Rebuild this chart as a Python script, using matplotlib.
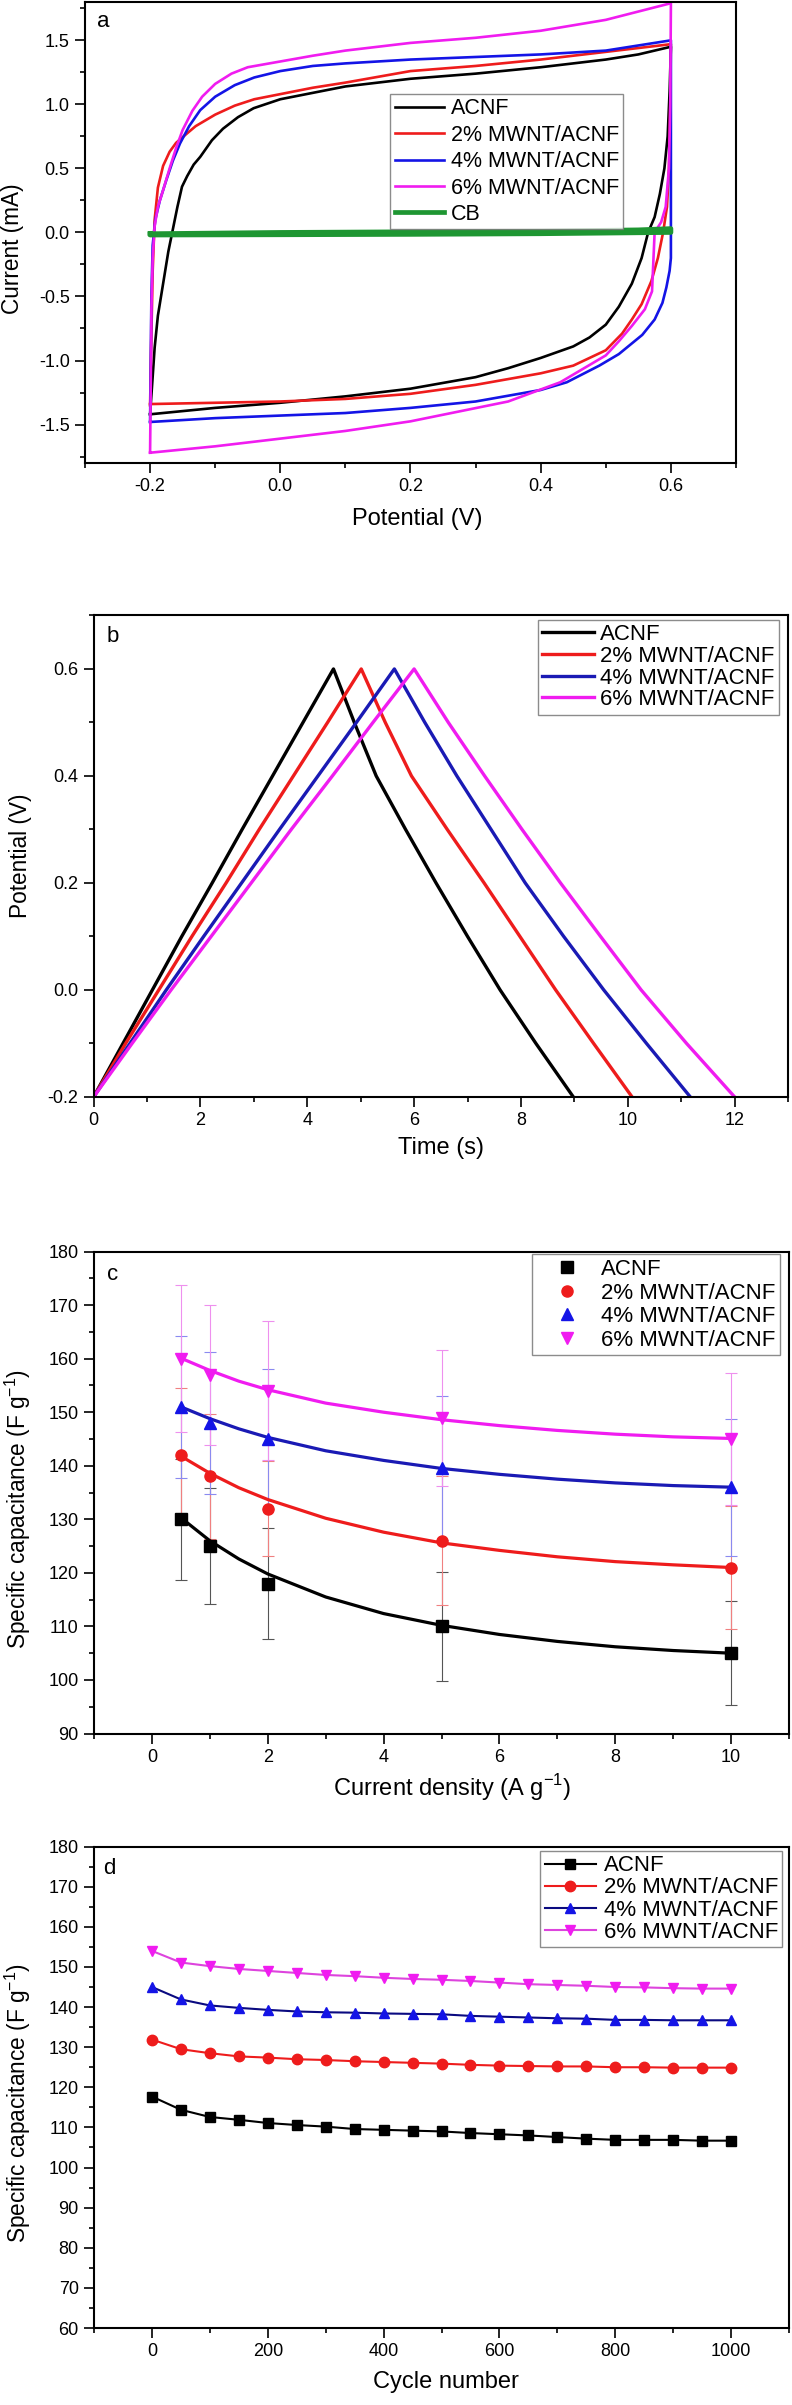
import numpy as np
import matplotlib
matplotlib.use("Agg")
import matplotlib.pyplot as plt
from matplotlib.ticker import MultipleLocator

plt.rcParams["font.family"] = ["Liberation Sans", "DejaVu Sans"]
plt.rcParams["axes.unicode_minus"] = False
plt.rcParams["mathtext.fontset"] = "custom"
plt.rcParams["mathtext.rm"] = "Liberation Sans"

LABELS = ["ACNF", "2% MWNT/ACNF", "4% MWNT/ACNF", "6% MWNT/ACNF"]

# ---- (a) cyclic voltammetry, closed loops
CV_V_ACNF = [-0.2, -0.197, -0.193, -0.188, -0.18, -0.172, -0.166, -0.158, -0.151, -0.143, -0.133,
             -0.123, -0.105, -0.088, -0.065, -0.041, 0.0, 0.05, 0.1, 0.2, 0.3, 0.4, 0.5, 0.55, 0.6,
             0.598, 0.595, 0.59, 0.583, 0.575, 0.565, 0.555, 0.54, 0.52, 0.5, 0.475, 0.45, 0.4,
             0.35, 0.3, 0.2, 0.1, 0.0, -0.1, -0.2]
CV_I_ACNF = [-1.42, -1.2, -0.9, -0.65, -0.4, -0.15, 0.0, 0.2, 0.357, 0.44, 0.53,
             0.59, 0.72, 0.81, 0.9, 0.97, 1.04, 1.09, 1.14, 1.2, 1.24, 1.29, 1.35, 1.39, 1.45,
             1.1, 0.75, 0.5, 0.3, 0.12, 0.0, -0.2, -0.4, -0.58, -0.72, -0.82, -0.89, -0.98,
             -1.06, -1.13, -1.22, -1.28, -1.33, -1.37, -1.42]

CV_V_2 = [-0.2, -0.198, -0.196, -0.193, -0.188, -0.18, -0.17, -0.16, -0.144, -0.13, -0.1, -0.07,
          -0.04, 0.0, 0.05, 0.1, 0.2, 0.3, 0.4, 0.5, 0.6,
          0.599, 0.597, 0.594, 0.588, 0.58, 0.57, 0.555, 0.54, 0.525, 0.5, 0.45, 0.4, 0.3, 0.2,
          0.1, 0.0, -0.1, -0.2]
CV_I_2 = [-1.35, -0.8, -0.3, 0.1, 0.35, 0.52, 0.63, 0.70, 0.77, 0.83, 0.92, 0.99,
          1.04, 1.08, 1.13, 1.17, 1.26, 1.30, 1.35, 1.41, 1.47,
          1.0, 0.5, 0.2, 0.0, -0.2, -0.38, -0.56, -0.68, -0.79, -0.92, -1.04, -1.10, -1.19, -1.26,
          -1.30, -1.32, -1.33, -1.34]

CV_V_4 = [-0.2, -0.199, -0.198, -0.196, -0.192, -0.185, -0.175, -0.165, -0.154, -0.14, -0.123,
          -0.1, -0.07, -0.04, 0.0, 0.05, 0.1, 0.2, 0.3, 0.4, 0.5, 0.6,
          0.6, 0.598, 0.593, 0.587, 0.575, 0.556, 0.52, 0.49, 0.44, 0.4, 0.3, 0.2, 0.1, 0.0,
          -0.1, -0.2]
CV_I_4 = [-1.48, -1.0, -0.5, -0.1, 0.1, 0.25, 0.41, 0.56, 0.695, 0.83, 0.955,
          1.06, 1.15, 1.21, 1.26, 1.30, 1.32, 1.35, 1.37, 1.39, 1.42, 1.50,
          -0.2, -0.3, -0.43, -0.55, -0.68, -0.80, -0.95, -1.04, -1.17, -1.23, -1.32, -1.37, -1.41,
          -1.43, -1.45, -1.48]

CV_V_6 = [-0.2, -0.199, -0.198, -0.196, -0.193, -0.188, -0.18, -0.17, -0.16, -0.15, -0.135,
          -0.12, -0.1, -0.075, -0.05, 0.0, 0.05, 0.1, 0.2, 0.3, 0.4, 0.5, 0.6,
          0.599, 0.597, 0.592, 0.585, 0.575, 0.571, 0.56, 0.54, 0.52, 0.5, 0.48, 0.43, 0.35, 0.2,
          0.1, 0.0, -0.1, -0.2]
CV_I_6 = [-1.72, -1.2, -0.6, -0.2, 0.05, 0.2, 0.33, 0.5, 0.66, 0.8, 0.95,
          1.06, 1.16, 1.24, 1.29, 1.335, 1.38, 1.42, 1.48, 1.52, 1.575, 1.66, 1.79,
          1.0, 0.5, 0.2, 0.08, 0.0, -0.46, -0.6, -0.73, -0.85, -0.96, -1.02, -1.17, -1.32, -1.475,
          -1.55, -1.61, -1.67, -1.72]

CV_V_CB = [-0.2, 0.0, 0.2, 0.4, 0.55, 0.6, 0.6, 0.4, 0.2, 0.0, -0.2, -0.2]
CV_I_CB = [-0.01, 0.0, 0.005, 0.01, 0.02, 0.03, 0.0, -0.01, -0.015, -0.018, -0.02, -0.01]

# ---- (b) galvanostatic charge/discharge (time at each potential level)
GCD_V = [-0.2, -0.1, 0.0, 0.1, 0.2, 0.3, 0.4, 0.5, 0.6, 0.5, 0.4, 0.3, 0.2, 0.1, 0.0, -0.1, -0.2]
GCD_T_ACNF = [0, 0.55, 1.1, 1.65, 2.22, 2.78, 3.35, 3.92, 4.49,
              4.88, 5.29, 5.84, 6.41, 7.0, 7.61, 8.28, 8.98]
GCD_T_2 = [0, 0.6, 1.22, 1.84, 2.48, 3.1, 3.74, 4.38, 5.01,
           5.46, 5.95, 6.62, 7.31, 7.98, 8.65, 9.36, 10.08]
GCD_T_4 = [0, 0.68, 1.36, 2.06, 2.77, 3.48, 4.2, 4.92, 5.63,
           6.2, 6.8, 7.44, 8.08, 8.8, 9.55, 10.35, 11.17]
GCD_T_6 = [0, 0.72, 1.45, 2.2, 2.95, 3.7, 4.47, 5.23, 6.0,
           6.64, 7.32, 8.02, 8.74, 9.49, 10.25, 11.1, 12.0]

# ---- (c) rate capability
CUR_DENS = [0.5, 1, 2, 5, 10]
CAP_ACNF = [130, 125, 118, 110, 105]
CAP_2 = [142, 138, 132, 126, 121]
CAP_4 = [151, 148, 145, 139.6, 136]
CAP_6 = [160, 157, 154, 149, 145]
ERR_ACNF = [11.3, 10.9, 10.3, 10.2, 9.7]
ERR_2 = [12.6, 11.7, 8.9, 12.0, 11.5]
ERR_4 = [13.3, 13.2, 13.0, 13.4, 12.8]
ERR_6 = [13.7, 13.1, 13.0, 12.7, 12.4]
FIT_X = [0.5, 1, 1.5, 2, 3, 4, 5, 6, 7, 8, 9, 10]
FIT_ACNF = [130.3, 126.0, 122.6, 119.8, 115.5, 112.4, 110.2, 108.5, 107.2, 106.2, 105.5, 105.0]
FIT_2 = [141.8, 138.6, 135.9, 133.7, 130.2, 127.6, 125.6, 124.2, 123.0, 122.1, 121.5, 121.0]
FIT_4 = [151.0, 148.8, 146.9, 145.3, 142.8, 141.0, 139.5, 138.4, 137.5, 136.8, 136.3, 136.0]
FIT_6 = [160.1, 157.8, 155.8, 154.2, 151.7, 150.0, 148.6, 147.5, 146.6, 145.9, 145.4, 145.1]

# ---- (d) cycling
CYCLES = list(range(0, 1001, 50))
CYC_ACNF = [117.7, 114.4, 112.6, 111.9, 111.1, 110.6, 110.2, 109.6, 109.4, 109.2, 109.0,
            108.6, 108.3, 108.0, 107.6, 107.2, 106.9, 106.9, 106.9, 106.7, 106.7]
CYC_2 = [131.9, 129.5, 128.5, 127.7, 127.4, 127.0, 126.8, 126.5, 126.3, 126.1, 125.9,
         125.6, 125.4, 125.3, 125.2, 125.2, 125.0, 125.0, 124.9, 124.9, 124.9]
CYC_4 = [145.0, 141.9, 140.4, 139.8, 139.3, 138.9, 138.7, 138.6, 138.4, 138.3, 138.2,
         137.8, 137.6, 137.4, 137.2, 137.1, 136.8, 136.8, 136.7, 136.7, 136.7]
CYC_6 = [154.0, 151.1, 150.2, 149.5, 149.0, 148.5, 148.0, 147.7, 147.3, 147.0, 146.8,
         146.5, 146.1, 145.7, 145.5, 145.3, 145.0, 144.9, 144.7, 144.6, 144.6]

BLACK, RED, BLUE, MAG, GREEN = "#000000", "#ee1c1c", "#1414e6", "#f01cf0", "#1e9632"

TICK_FS = 13
XLABEL_FS = 17
YLABEL_FS = 16.3


def style_axes(ax):
    for sp in ax.spines.values():
        sp.set_linewidth(1.5)
    ax.tick_params(which="both", direction="out", top=False, right=False,
                   width=1.2, labelsize=TICK_FS, pad=4)
    ax.tick_params(which="major", length=7)
    ax.tick_params(which="minor", length=3.5)


def place_labels(ax, xlab, ylab, xc, yc):
    ax.set_xlabel(xlab, fontsize=XLABEL_FS)
    ax.set_ylabel(ylab, fontsize=YLABEL_FS)
    ax.xaxis.set_label_coords(*xc)
    ax.yaxis.set_label_coords(*yc)
    ax.xaxis.label.set_verticalalignment("center")
    ax.yaxis.label.set_verticalalignment("center")


def legend_box(ax, anchor, fs, hl, htp, ls):
    leg = ax.legend(loc="upper left", bbox_to_anchor=anchor, fontsize=fs,
                    frameon=True, fancybox=False, borderpad=0.2, borderaxespad=0,
                    handlelength=hl, handletextpad=htp, labelspacing=ls)
    leg.get_frame().set_edgecolor("#707070")
    leg.get_frame().set_linewidth(1.0)
    return leg


fig = plt.figure(figsize=(7.92, 24.05), dpi=100)

# ---------------- (a)
ax = fig.add_axes([0.1073, 0.8075, 0.822, 0.1917])
ax.plot(CV_V_ACNF, CV_I_ACNF, color=BLACK, lw=1.9, label=LABELS[0])
ax.plot(CV_V_2, CV_I_2, color=RED, lw=1.9, label=LABELS[1])
ax.plot(CV_V_4, CV_I_4, color=BLUE, lw=1.9, label=LABELS[2])
ax.plot(CV_V_6, CV_I_6, color=MAG, lw=1.9, label=LABELS[3])
ax.plot(CV_V_CB, CV_I_CB, color=GREEN, lw=3.4, label="CB")
ax.set_xlim(-0.3, 0.7)
ax.set_ylim(-1.8, 1.8)
ax.xaxis.set_major_locator(MultipleLocator(0.2))
ax.xaxis.set_minor_locator(MultipleLocator(0.1))
ax.yaxis.set_major_locator(MultipleLocator(0.5))
ax.yaxis.set_minor_locator(MultipleLocator(0.25))
ax.xaxis.set_major_formatter(lambda v, p: f"{v:.1f}")
ax.yaxis.set_major_formatter(lambda v, p: f"{v:.1f}")
style_axes(ax)
place_labels(ax, "Potential (V)", "Current (mA)", (0.511, -0.121), (-0.111, 0.465))
ax.text(0.018, 0.957, "a", transform=ax.transAxes, fontsize=16, va="center")
legend_box(ax, (0.469, 0.80), 15.5, 2.3, 0.3, 0.25)

# ---------------- (b)
ax = fig.add_axes([0.1182, 0.5439, 0.8768, 0.2002])
ax.plot(GCD_T_ACNF, GCD_V, color=BLACK, lw=2.4, label=LABELS[0])
ax.plot(GCD_T_2, GCD_V, color=RED, lw=2.4, label=LABELS[1])
ax.plot(GCD_T_4, GCD_V, color="#1a1ab4", lw=2.4, label=LABELS[2])
ax.plot(GCD_T_6, GCD_V, color=MAG, lw=2.4, label=LABELS[3])
ax.set_xlim(0, 13)
ax.set_ylim(-0.2, 0.7)
ax.xaxis.set_major_locator(MultipleLocator(2))
ax.xaxis.set_minor_locator(MultipleLocator(1))
ax.yaxis.set_major_locator(MultipleLocator(0.2))
ax.yaxis.set_minor_locator(MultipleLocator(0.1))
ax.yaxis.set_major_formatter(lambda v, p: f"{v:.1f}")
style_axes(ax)
place_labels(ax, "Time (s)", "Potential (V)", (0.5, -0.107), (-0.106, 0.5))
ax.text(0.018, 0.956, "b", transform=ax.transAxes, fontsize=16, va="center")
legend_box(ax, (0.64, 0.991), 16, 2.3, 0.3, 0.03)

# ---------------- (c)
ax = fig.add_axes([0.1187, 0.2792, 0.8775, 0.2004])
series_c = [
    (CAP_ACNF, ERR_ACNF, FIT_ACNF, "s", BLACK, "#555555", BLACK),
    (CAP_2, ERR_2, FIT_2, "o", RED, "#f08080", RED),
    (CAP_4, ERR_4, FIT_4, "^", BLUE, "#8a8af0", "#1a1ab4"),
    (CAP_6, ERR_6, FIT_6, "v", MAG, "#ee90ee", MAG),
]
for (cap, err, fit, mk, col, ecol, fcol), lab in zip(series_c, LABELS):
    ax.errorbar(CUR_DENS, cap, yerr=err, fmt="none", ecolor=ecol, elinewidth=0.8,
                capsize=4, capthick=0.8, zorder=1)
    ax.plot(FIT_X, fit, color=fcol, lw=2.3, zorder=2)
    ax.plot(CUR_DENS, cap, ls="none", marker=mk, ms=8, color=col, label=lab, zorder=3)
ax.set_xlim(-1, 11)
ax.set_ylim(90, 180)
ax.xaxis.set_major_locator(MultipleLocator(2))
ax.xaxis.set_minor_locator(MultipleLocator(1))
ax.yaxis.set_major_locator(MultipleLocator(10))
ax.yaxis.set_minor_locator(MultipleLocator(5))
style_axes(ax)
place_labels(ax, "Current density (A g$^{\\mathregular{-1}}$)",
             "Specific capacitance (F g$^{\\mathregular{-1}}$)", (0.516, -0.112), (-0.109, 0.465))
ax.text(0.019, 0.953, "c", transform=ax.transAxes, fontsize=16, va="center")
legend_box(ax, (0.63, 0.994), 16, 2.8, 0.12, 0.12)

# ---------------- (d)
ax = fig.add_axes([0.1187, 0.0320, 0.8775, 0.2002])
series_d = [
    (CYC_ACNF, "s", BLACK, BLACK),
    (CYC_2, "o", RED, RED),
    (CYC_4, "^", BLUE, "#0a0a80"),
    (CYC_6, "v", MAG, "#dd44dd"),
]
for (vals, mk, mcol, lcol), lab in zip(series_d, LABELS):
    ax.plot(CYCLES, vals, color=lcol, lw=1.5, marker=mk, ms=7.5, mfc=mcol, mec=mcol, label=lab)
ax.set_xlim(-100, 1100)
ax.set_ylim(60, 180)
ax.xaxis.set_major_locator(MultipleLocator(200))
ax.xaxis.set_minor_locator(MultipleLocator(100))
ax.yaxis.set_major_locator(MultipleLocator(10))
ax.yaxis.set_minor_locator(MultipleLocator(5))
style_axes(ax)
place_labels(ax, "Cycle number", "Specific capacitance (F g$^{\\mathregular{-1}}$)",
             (0.507, -0.112), (-0.109, 0.467))
ax.text(0.013, 0.955, "d", transform=ax.transAxes, fontsize=16, va="center")
legend_box(ax, (0.642, 0.991), 16, 2.3, 0.35, 0.05)

fig.savefig("out.png", dpi=100)
